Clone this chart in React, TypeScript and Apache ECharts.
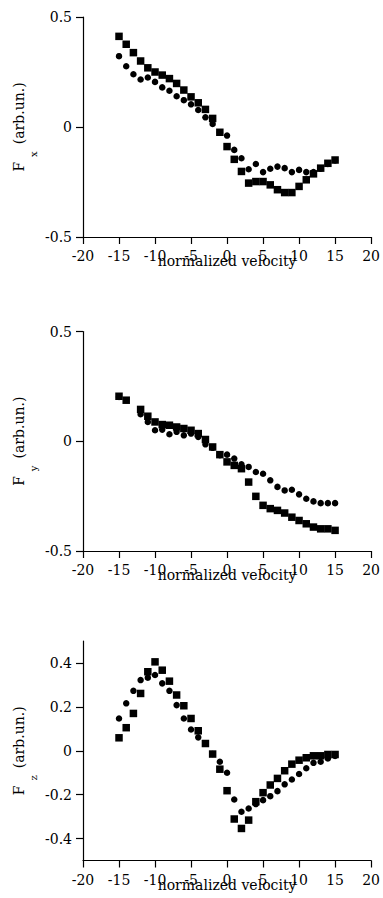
import React, { useEffect, useRef } from "react";
import * as echarts from "echarts";

const xTicks = [-20, -15, -10, -5, 0, 5, 10, 15, 20];
const fzTicks = [-0.4, -0.2, 0, 0.2, 0.4];

const fxSquareV = [-15, -14, -13, -12, -11, -10, -9, -8, -7, -6, -5, -4, -3, -2, -1, 0, 1, 2, 3, 4, 5, 6, 7, 8, 9, 10, 11, 12, 13, 14, 15];
const fxSquare = [0.412, 0.376, 0.338, 0.30, 0.269, 0.25, 0.236, 0.22, 0.198, 0.168, 0.137, 0.11, 0.08, 0.039, -0.024, -0.089, -0.147, -0.202, -0.255, -0.248, -0.248, -0.263, -0.285, -0.298, -0.298, -0.27, -0.24, -0.213, -0.187, -0.165, -0.15];
const fxCircleV = [-15, -14, -13, -12, -11, -10, -9, -8, -7, -6, -5, -4, -3, -2, -1, 0, 1, 2, 3, 4, 5, 6, 7, 8, 9, 10, 11, 12, 13, 14, 15];
const fxCircle = [0.322, 0.276, 0.24, 0.216, 0.225, 0.205, 0.18, 0.165, 0.14, 0.122, 0.103, 0.077, 0.044, 0.014, -0.024, -0.039, -0.104, -0.142, -0.192, -0.168, -0.205, -0.19, -0.18, -0.187, -0.205, -0.195, -0.205, -0.205, -0.19, -0.168, -0.152];

const fySquareV = [-15, -14, -12, -11, -10, -9, -8, -7, -6, -5, -4, -3, -2, -1, 0, 1, 2, 3, 4, 5, 6, 7, 8, 9, 10, 11, 12, 13, 14, 15];
const fySquare = [0.205, 0.187, 0.145, 0.114, 0.088, 0.076, 0.073, 0.065, 0.058, 0.05, 0.035, 0.008, -0.026, -0.061, -0.094, -0.11, -0.125, -0.186, -0.251, -0.292, -0.307, -0.315, -0.327, -0.346, -0.361, -0.376, -0.391, -0.399, -0.399, -0.406];
const fyCircleV = [-15, -12, -11, -10, -9, -8, -7, -6, -5, -4, -3, -2, -1, 0, 1, 2, 3, 4, 5, 6, 7, 8, 9, 10, 11, 12, 13, 14, 15];
const fyCircle = [0.202, 0.123, 0.088, 0.05, 0.053, 0.032, 0.043, 0.027, 0.035, 0.02, -0.014, -0.03, -0.064, -0.061, -0.079, -0.105, -0.117, -0.14, -0.148, -0.178, -0.208, -0.224, -0.221, -0.242, -0.262, -0.274, -0.282, -0.282, -0.282];

const fzSquareV = [-15, -14, -13, -12, -11, -10, -9, -8, -7, -6, -5, -4, -3, -2, -1, 0, 1, 2, 3, 4, 5, 6, 7, 8, 9, 10, 11, 12, 13, 14, 15];
const fzSquare = [0.059, 0.105, 0.17, 0.261, 0.36, 0.405, 0.367, 0.317, 0.254, 0.205, 0.147, 0.091, 0.033, -0.015, -0.084, -0.182, -0.311, -0.354, -0.316, -0.232, -0.191, -0.156, -0.126, -0.091, -0.061, -0.043, -0.032, -0.023, -0.023, -0.017, -0.017];
const fzCircleV = [-15, -14, -13, -12, -11, -10, -9, -8, -7, -6, -5, -4, -3, -2, -1, 0, 1, 2, 3, 4, 5, 6, 7, 8, 9, 10, 11, 12, 13, 14, 15];
const fzCircle = [0.147, 0.216, 0.273, 0.322, 0.333, 0.345, 0.307, 0.273, 0.208, 0.147, 0.097, 0.061, 0.033, -0.015, -0.05, -0.1, -0.222, -0.278, -0.263, -0.243, -0.225, -0.207, -0.184, -0.153, -0.131, -0.106, -0.08, -0.055, -0.05, -0.035, -0.024];

const xName = "normalized velocity";
const yUnit = "(arb.un.)";
const subs = ["x", "y", "z"];

const FONT = "DejaVu Serif";

const pair = (xs: number[], ys: number[]) => xs.map((x, i) => [x, ys[i]]);

export default function App() {
  const ref = useRef<HTMLDivElement>(null);
  useEffect(() => {
    if (!ref.current) return;
    const chart = echarts.init(ref.current, null, { renderer: "svg" });
    const grids = [
      { left: 83, top: 17, width: 292, height: 220 },
      { left: 83, top: 331.5, width: 292, height: 219.5 },
      { left: 83, top: 641, width: 292, height: 219.5 },
    ];
    const axisLine = { onZero: false, lineStyle: { color: "#000", width: 1.2 } };
    const axisTick = { length: 7, lineStyle: { color: "#000", width: 1.2 } };
    const labelStyle = { color: "#000", fontFamily: FONT, fontSize: 14 };
    const fmt = (v: number) => (Math.abs(v) < 1e-9 ? "0" : String(Math.round(v * 10) / 10));
    const xAxes = grids.map((_, i) => ({
      type: "value",
      gridIndex: i,
      min: xTicks[0],
      max: xTicks[xTicks.length - 1],
      interval: 5,
      splitLine: { show: false },
      axisLine,
      axisTick,
      axisLabel: { ...labelStyle, margin: 12, formatter: fmt },
      name: xName,
      nameLocation: "middle",
      nameGap: 17,
      nameMoveOverlap: false,
      nameTextStyle: { ...labelStyle, lineHeight: 14 },
    }));
    const yAxes = grids.map((_, i) => {
      const base: any = {
        type: "value",
        gridIndex: i,
        min: -0.5,
        max: 0.5,
        splitLine: { show: false },
        axisLine,
        axisTick: { ...axisTick },
        axisLabel: { ...labelStyle, margin: 11, formatter: fmt },
        name: `{f|F}{s|${subs[i]}}{t|${yUnit}}`,
        nameLocation: "middle",
        nameGap: 45,
        nameMoveOverlap: false,
        nameTextStyle: {
          ...labelStyle,
          rich: {
            f: { fontFamily: FONT, fontSize: 14, color: "#000", lineHeight: 38 },
            s: { fontFamily: FONT, fontSize: 10, color: "#000", lineHeight: 9, verticalAlign: "bottom", padding: [0, 0, 0, 5] },
            t: { fontFamily: FONT, fontSize: 14, color: "#000", lineHeight: 38, padding: [0, 0, 0, 7] },
          },
        },
      };
      if (i < 2) {
        base.interval = 0.5;
      } else {
        base.axisTick.customValues = fzTicks;
        base.axisLabel.customValues = fzTicks;
      }
      return base;
    });
    const dataSets = [
      [pair(fxCircleV, fxCircle), pair(fxSquareV, fxSquare)],
      [pair(fyCircleV, fyCircle), pair(fySquareV, fySquare)],
      [pair(fzCircleV, fzCircle), pair(fzSquareV, fzSquare)],
    ];
    const series: any[] = [];
    dataSets.forEach((d, i) => {
      series.push({
        type: "scatter",
        xAxisIndex: i,
        yAxisIndex: i,
        symbol: "circle",
        symbolSize: 6.5,
        itemStyle: { color: "#000", opacity: 1 },
        data: d[0],
      });
      series.push({
        type: "scatter",
        xAxisIndex: i,
        yAxisIndex: i,
        symbol: "rect",
        symbolSize: 7.5,
        itemStyle: { color: "#000", opacity: 1 },
        data: d[1],
      });
    });
    chart.setOption({
      animation: false,
      backgroundColor: "#fff",
      grid: grids,
      xAxis: xAxes,
      yAxis: yAxes,
      series,
    });
    return () => chart.dispose();
  }, []);
  return (
    <div
      ref={ref}
      style={{ position: "absolute", left: 0, top: 0, width: 383, height: 898 }}
    />
  );
}
